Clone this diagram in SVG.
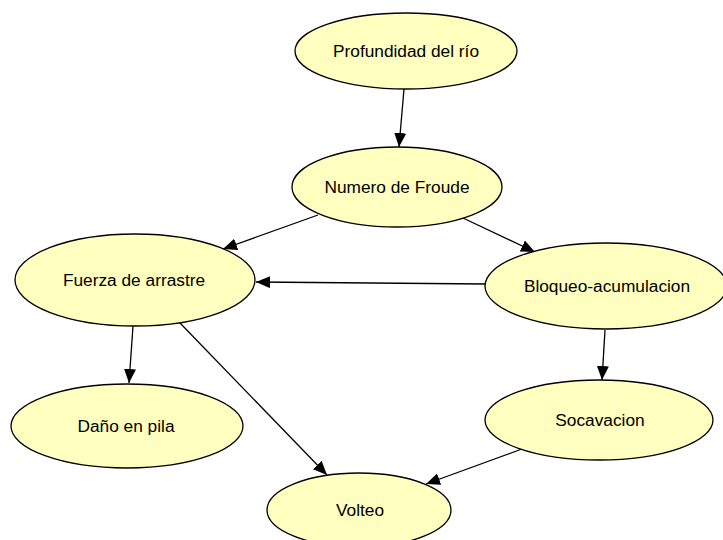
<svg xmlns="http://www.w3.org/2000/svg" width="723" height="540" viewBox="0 0 723 540">
  <style>
    .node ellipse { fill: #ffffc0; stroke: #000; stroke-width: 1.3; }
    .node text { font-family: "Liberation Sans", Arial, sans-serif; font-size: 17.3px; fill: #000; text-anchor: middle; }
    .edge { stroke: #000; stroke-width: 1.3; fill: none; marker-end: url(#arrow); }
  </style>
  <defs>
    <marker id="arrow" markerUnits="userSpaceOnUse" markerWidth="15" markerHeight="13" refX="14" refY="6" orient="auto">
      <path d="M0,0 L14,6 L0,12 z" fill="#000"/>
    </marker>
  </defs>
  <rect width="723" height="540" fill="#fff"/>

  <g id="connectors">
    <line class="edge" x1="404" y1="89" x2="399" y2="147"/>
    <line class="edge" x1="318" y1="215" x2="223" y2="249"/>
    <line class="edge" x1="463" y1="218" x2="535" y2="252"/>
    <line class="edge" x1="486" y1="284" x2="256" y2="282"/>
    <line class="edge" x1="133" y1="326" x2="129" y2="383"/>
    <line class="edge" x1="180" y1="323" x2="327" y2="475"/>
    <line class="edge" x1="605" y1="330" x2="602" y2="380"/>
    <line class="edge" x1="522" y1="449" x2="426" y2="484"/>
  </g>

  <g id="profundidad" class="node">
    <ellipse cx="406" cy="51" rx="111" ry="38"/>
    <text x="406" y="57">Profundidad del río</text>
  </g>
  <g id="froude" class="node">
    <ellipse cx="397" cy="187" rx="105" ry="40"/>
    <text x="397" y="193">Numero de Froude</text>
  </g>
  <g id="fuerza" class="node">
    <ellipse cx="135" cy="280" rx="120" ry="46"/>
    <text x="134" y="286">Fuerza de arrastre</text>
  </g>
  <g id="bloqueo" class="node">
    <ellipse cx="606" cy="286" rx="121" ry="43"/>
    <text x="607" y="292">Bloqueo-acumulacion</text>
  </g>
  <g id="dano" class="node">
    <ellipse cx="127" cy="426" rx="116" ry="42"/>
    <text x="126" y="432">Daño en pila</text>
  </g>
  <g id="socavacion" class="node">
    <ellipse cx="599" cy="420" rx="114" ry="40"/>
    <text x="600" y="426">Socavacion</text>
  </g>
  <g id="volteo" class="node">
    <ellipse cx="359" cy="510" rx="92" ry="37"/>
    <text x="360" y="516">Volteo</text>
  </g>
</svg>
